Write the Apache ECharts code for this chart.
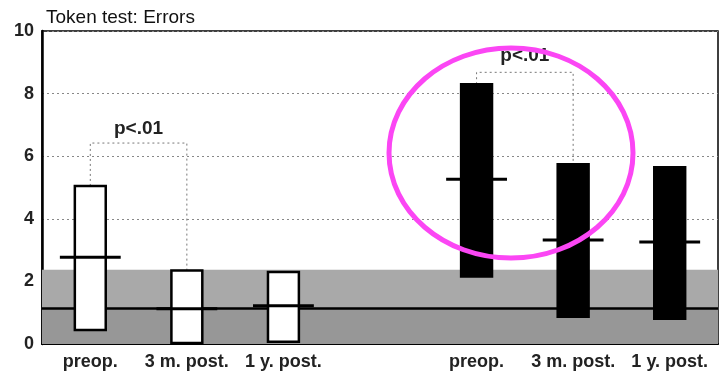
<!DOCTYPE html>
<html><head><meta charset="utf-8">
<script src="https://cdn.jsdelivr.net/npm/echarts@6/dist/echarts.min.js"></script>
<style>html,body{margin:0;padding:0;background:#fff}#c{width:719px;height:377px}</style>
</head><body><div id="c"></div>
<script>
// categories (slot 3 is the gap between the two groups)
const categories = ['preop.', '3 m. post.', '1 y. post.', '', 'preop.', '3 m. post.', '1 y. post.'];
const yTicks = [0, 2, 4, 6, 8, 10];
// group 1 (white bars)
const g1Index  = [0, 1, 2];
const g1Low    = [0.45, 0.03, 0.07];
const g1High   = [5.05, 2.35, 2.30];
const g1Median = [2.77, 1.13, 1.22];
// group 2 (black bars)
const g2Index  = [4, 5, 6];
const g2Low    = [2.16, 0.87, 0.81];
const g2High   = [8.30, 5.74, 5.65];
const g2Median = [5.26, 3.32, 3.26];
// normal range band
const bandTop = 2.37;
const bandMid = 1.13;
// significance brackets
const bracketFrom = [0, 4];
const bracketTo   = [1, 5];
const bracketFromY = [5.05, 8.30];
const bracketToY   = [2.35, 5.74];
const bracketTopY  = [6.42, 8.68];
const bracketLabelY = [6.87, 9.22];
const bracketLabel = ['p<.01', 'p<.01'];

const FONT = 'Liberation Sans, Arial, sans-serif';

function rangeData(idx, lo, hi, med) {
  return idx.map((c, i) => [c, lo[i], hi[i], med[i]]);
}

function makeRender(fill) {
  return function (params, api) {
    const c = api.value(0);
    const pLo = api.coord([c, api.value(1)]);
    const pHi = api.coord([c, api.value(2)]);
    const pMed = api.coord([c, api.value(3)]);
    const band = api.size([1, 0])[0];
    const bw = band * 0.32;
    const mw = band * 0.63;
    return {
      type: 'group',
      children: [
        { type: 'rect', shape: { x: pHi[0] - bw / 2, y: pHi[1], width: bw, height: pLo[1] - pHi[1] },
          style: { fill: fill, stroke: '#000', lineWidth: 2.5 } },
        { type: 'line', shape: { x1: pMed[0] - mw / 2, y1: pMed[1], x2: pMed[0] + mw / 2, y2: pMed[1] },
          style: { stroke: '#000', lineWidth: 3 } }
      ]
    };
  };
}

const bracketData = bracketFrom.map((f, i) => [f, bracketTo[i], bracketFromY[i], bracketToY[i], bracketTopY[i], bracketLabelY[i]]);

const chart = echarts.init(document.getElementById('c'));
chart.setOption({
  animation: false,
  backgroundColor: '#fff',
  title: { text: 'Token test: Errors', left: 41, top: 3,
    textStyle: { fontFamily: FONT, fontSize: 19, fontWeight: 'normal', color: '#111' } },
  grid: { left: 42, right: 1, top: 31, bottom: 33, show: true, borderColor: '#000', borderWidth: 1.5, backgroundColor: 'transparent' },
  xAxis: {
    type: 'category', data: categories, boundaryGap: true,
    axisLine: { show: true, lineStyle: { color: '#000', width: 2 } },
    axisTick: { show: false },
    axisLabel: { interval: 0, margin: 9, fontFamily: FONT, fontSize: 18, fontWeight: 'bold', color: '#222' },
    splitLine: { show: false }
  },
  yAxis: {
    type: 'value', min: 0, max: 10, interval: 2,
    axisLine: { show: true, lineStyle: { color: '#000', width: 2.5 } },
    axisTick: { show: false },
    axisLabel: { margin: 8, fontFamily: FONT, fontSize: 18, fontWeight: 'bold', color: '#222',
      formatter: v => yTicks.includes(v) ? String(v) : '' },
    splitLine: { show: true, lineStyle: { color: '#888', type: [2, 3], width: 1 } }
  },
  series: [
    {
      type: 'line', data: [], z: 1,
      markArea: { silent: true, itemStyle: { color: '#a8a8a8' },
        data: [
          [{ yAxis: bandMid, itemStyle: { color: '#a9a9a9' } }, { yAxis: bandTop }],
          [{ yAxis: 0, itemStyle: { color: '#979797' } }, { yAxis: bandMid }]
        ] },
      markLine: { silent: true, symbol: 'none', label: { show: false },
        lineStyle: { color: '#000', width: 2.5, type: 'solid' },
        data: [{ yAxis: bandMid }] }
    },
    {
      type: 'custom', z: 5, renderItem: function (params, api) {
        const a = api.coord([api.value(0), api.value(2)]);
        const b = api.coord([api.value(1), api.value(3)]);
        const top = api.coord([api.value(0), api.value(4)])[1];
        const labY = api.coord([api.value(0), api.value(5)])[1];
        const labX = (a[0] + b[0]) / 2;
        return { type: 'group', children: [
          { type: 'polyline', shape: { points: [[a[0], a[1]], [a[0], top], [b[0], top], [b[0], b[1]]] },
            style: { stroke: '#777', lineWidth: 1, lineDash: [2, 3], fill: null } },
          { type: 'text', x: labX, y: labY,
            style: { text: bracketLabel[params.dataIndex], fontFamily: FONT, fontSize: 19, fontWeight: 'bold', fill: '#222', align: 'center', verticalAlign: 'middle' } }
        ] };
      },
      data: bracketData
    },
    { type: 'custom', z: 10, renderItem: makeRender('#fff'), data: rangeData(g1Index, g1Low, g1High, g1Median) },
    { type: 'custom', z: 10, renderItem: makeRender('#000'), data: rangeData(g2Index, g2Low, g2High, g2Median) }
  ],
  graphic: [
    { type: 'ellipse', z: 100, shape: { cx: 511, cy: 153, rx: 122, ry: 105 },
      style: { fill: null, stroke: '#fb46f4', lineWidth: 5 } }
  ]
});
</script>
</body></html>
